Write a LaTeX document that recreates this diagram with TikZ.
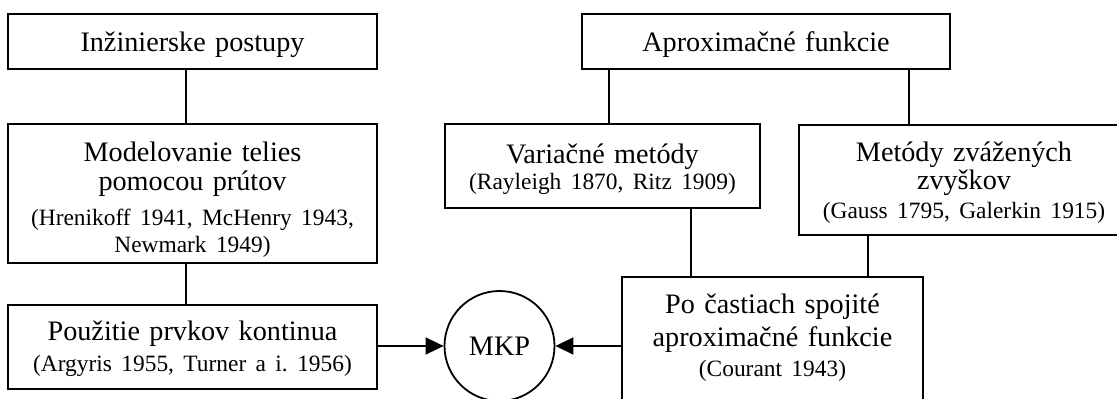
\documentclass[tikz,border=0pt]{standalone}
\usepackage{fontspec}
\setmainfont{Liberation Serif}
\usetikzlibrary{arrows.meta}

\newcommand{\mal}{\fontsize{11.7}{13.5}\selectfont}

\begin{document}
\frenchspacing
\begin{tikzpicture}[x=0.5pt, y=-0.5pt, line width=0.9pt, >={Triangle[length=9pt, width=8.5pt]},
		blok/.style={draw, inner sep=0pt, align=center, font=\fontsize{14.1}{13.5}\selectfont}]
	\useasboundingbox (0,0) rectangle (1117,399);
	
	% 1. inzinierske postupy (lavy stlpec)
	\node[blok, text width=184.5pt, text height=18.85pt, text depth=8.65pt] (inz) at (192.5,41.5) {Inžinierske postupy};
	\node[blok, text width=184.5pt, text height=18.85pt, text depth=50.65pt] (model) at (192.5,193.5)
		{Modelovanie telies\\[1pt]pomocou prútov\\[4pt]{\mal (Hrenikoff 1941, McHenry 1943,\\Newmark 1949)}};
	\node[blok, text width=184.5pt, text height=17.75pt, text depth=24.25pt] (kont) at (192.5,347)
		{Použitie prvkov kontinua\\[2pt]{\mal (Argyris 1955, Turner a i. 1956)}};
	
	% 2. aproximacne funkcie (pravy stlpec)
	\node[blok, text width=184pt, text height=18.85pt, text depth=8.65pt] (aprox) at (766,41.5) {Aproximačné funkcie};
	\node[blok, text width=157.5pt, text height=19.65pt, text depth=22.35pt] (var) at (602.5,166)
		{Variačné metódy\\[-0.5pt]{\mal (Rayleigh 1870, Ritz 1909)}};
	\node[blok, text width=165pt, text height=18.35pt, text depth=36.65pt] (met) at (964,180)
		{Metódy zvážených\\[0.6pt]zvyškov\\[0.6pt]{\mal (Gauss 1795, Galerkin 1915)}};
	\node[blok, text width=150.5pt, text height=18.15pt, text depth=50.85pt] (po) at (772.5,346)
		{Po častiach spojité\\[3.2pt]aproximačné funkcie\\[1.5pt]{\mal (Courant 1943)}};
	
	% 3. MKP
	\node[draw, circle, inner sep=0pt, minimum size=55pt, font=\fontsize{14.1}{13.5}\selectfont] (mkp) at (499.5,346) {MKP};
	
	% 4. spojnice
	\draw ([xshift=-3.25pt]inz.south) -- ([xshift=-3.25pt]model.north);
	\draw ([xshift=-3.25pt]model.south) -- ([xshift=-3.25pt]kont.north);
	\draw ([xshift=-78.5pt]aprox.south) -- ([xshift=3.25pt]var.north);
	\draw ([xshift=71.5pt]aprox.south) -- ([xshift=-27.5pt]met.north);
	\draw ([xshift=44.25pt]var.south) -- ([xshift=-40.75pt]po.north);
	\draw ([xshift=-48pt]met.south) -- ([xshift=47.75pt]po.north);
	
	% 5. sipky do MKP
	\draw[->] (kont.east |- mkp.west) -- (mkp.west);
	\draw[->] (po.west) -- (mkp.east);
\end{tikzpicture}
\end{document}
